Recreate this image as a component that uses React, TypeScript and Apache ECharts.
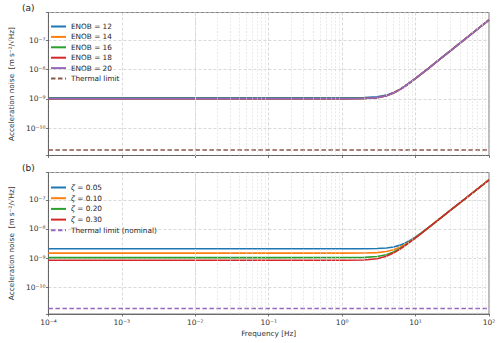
import React, { useEffect, useRef } from 'react';
import * as echarts from 'echarts';

// Frequency grid shared by every curve [Hz]
const FREQ = [1e-4, 1e-3, 1e-2, 0.1, 1, 2, 3, 4, 5, 6, 7, 8, 10, 12, 15, 20, 30, 50, 100];

// Panel (a): readout noise for different ADC resolutions
const ENOB_NAMES = ['ENOB = 12', 'ENOB = 14', 'ENOB = 16', 'ENOB = 18', 'ENOB = 20'];
const ENOB_12 = [1.1e-9, 1.1e-9, 1.1e-9, 1.1e-9, 1.1e-9, 1.117e-9, 1.185e-9, 1.351e-9, 1.646e-9, 2.079e-9, 2.641e-9, 3.323e-9, 5.022e-9, 7.141e-9, 1.108e-8, 1.963e-8, 4.411e-8, 1.225e-7, 4.9e-7];
const ENOB_14 = [1.03e-9, 1.03e-9, 1.03e-9, 1.03e-9, 1.031e-9, 1.049e-9, 1.121e-9, 1.294e-9, 1.601e-9, 2.043e-9, 2.613e-9, 3.301e-9, 5.006e-9, 7.131e-9, 1.107e-8, 1.963e-8, 4.411e-8, 1.225e-7, 4.9e-7];
const ENOB_16 = [1.02e-9, 1.02e-9, 1.02e-9, 1.02e-9, 1.021e-9, 1.039e-9, 1.111e-9, 1.287e-9, 1.594e-9, 2.038e-9, 2.609e-9, 3.298e-9, 5.005e-9, 7.129e-9, 1.107e-8, 1.963e-8, 4.411e-8, 1.225e-7, 4.9e-7];
const ENOB_18 = [1.02e-9, 1.02e-9, 1.02e-9, 1.02e-9, 1.021e-9, 1.039e-9, 1.111e-9, 1.287e-9, 1.594e-9, 2.038e-9, 2.609e-9, 3.298e-9, 5.005e-9, 7.129e-9, 1.107e-8, 1.963e-8, 4.411e-8, 1.225e-7, 4.9e-7];
const ENOB_20 = [1.02e-9, 1.02e-9, 1.02e-9, 1.02e-9, 1.021e-9, 1.039e-9, 1.111e-9, 1.287e-9, 1.594e-9, 2.038e-9, 2.609e-9, 3.298e-9, 5.005e-9, 7.129e-9, 1.107e-8, 1.963e-8, 4.411e-8, 1.225e-7, 4.9e-7];
const THERMAL_A = 1.85e-11;

// Panel (b): effect of the damping ratio
const ZETA_NAMES = ['ζ = 0.05', 'ζ = 0.10', 'ζ = 0.20', 'ζ = 0.30'];
const ZETA_005 = [2.08e-9, 2.08e-9, 2.08e-9, 2.08e-9, 2.081e-9, 2.089e-9, 2.126e-9, 2.223e-9, 2.414e-9, 2.727e-9, 3.177e-9, 3.763e-9, 5.323e-9, 7.356e-9, 1.122e-8, 1.971e-8, 4.415e-8, 1.225e-7, 4.9e-7];
const ZETA_010 = [1.48e-9, 1.48e-9, 1.48e-9, 1.48e-9, 1.481e-9, 1.493e-9, 1.544e-9, 1.675e-9, 1.921e-9, 2.303e-9, 2.821e-9, 3.468e-9, 5.119e-9, 7.21e-9, 1.112e-8, 1.966e-8, 4.413e-8, 1.225e-7, 4.9e-7];
const ZETA_020 = [1.04e-9, 1.04e-9, 1.04e-9, 1.04e-9, 1.041e-9, 1.058e-9, 1.13e-9, 1.302e-9, 1.607e-9, 2.048e-9, 2.617e-9, 3.304e-9, 5.009e-9, 7.132e-9, 1.107e-8, 1.963e-8, 4.411e-8, 1.225e-7, 4.9e-7];
const ZETA_030 = [0.84e-9, 0.84e-9, 0.84e-9, 0.84e-9, 0.841e-9, 0.863e-9, 0.949e-9, 1.149e-9, 1.485e-9, 1.954e-9, 2.544e-9, 3.247e-9, 4.972e-9, 7.106e-9, 1.106e-8, 1.962e-8, 4.411e-8, 1.225e-7, 4.9e-7];
const THERMAL_B = 1.85e-11;

// Axis limits
const X_MIN = 1e-4;
const X_MAX = 100;
const Y_MIN = 1.2e-11;
const Y_MAX = 8.7e-7;

const TAB10 = ['#1f77b4', '#ff7f0e', '#2ca02c', '#d62728', '#9467bd', '#8c564b'];
const FONT = 'DejaVu Sans';
const AXIS_COLOR = '#555';
const TICK_FONT = 7.5;
const TEXT_FONT = 7.3;

const SUP: Record<string, string> = {
  '-': '⁻', '0': '⁰', '1': '¹', '2': '²', '3': '³', '4': '⁴',
  '5': '⁵', '6': '⁶', '7': '⁷', '8': '⁸', '9': '⁹',
};

function powerLabel(v: number): string {
  const lg = Math.log10(v);
  const e = Math.round(lg);
  if (Math.abs(lg - e) > 1e-6) return '';
  return '10' + String(e).split('').map((c) => SUP[c] ?? c).join('');
}

function zip(values: number[]): [number, number][] {
  return FREQ.map((f, i) => [f, values[i]]);
}

// Minor log grid positions (2..9 of every decade inside the limits)
function minorPositions(lo: number, hi: number): number[] {
  const out: number[] = [];
  for (let k = Math.floor(Math.log10(lo)); k <= Math.ceil(Math.log10(hi)); k++) {
    for (let m = 2; m <= 9; m++) {
      const v = m * Math.pow(10, k);
      if (v > lo && v < hi) out.push(v);
    }
  }
  return out;
}

function xAxisFor(gridIndex: number, showLabels: boolean) {
  return {
    type: 'log',
    logBase: 10,
    gridIndex,
    min: X_MIN,
    max: X_MAX,
    axisLine: { show: true, lineStyle: { color: AXIS_COLOR, width: 0.8 } },
    axisTick: { show: true, length: 2.5, lineStyle: { color: AXIS_COLOR, width: 0.8 } },
    axisLabel: {
      show: showLabels,
      formatter: powerLabel,
      fontSize: TICK_FONT,
      color: '#333',
      fontFamily: FONT,
      margin: 4,
      showMinLabel: true,
      showMaxLabel: true,
    },
    splitLine: { show: true, lineStyle: { color: '#c8c8c8', width: 0.7, type: [3, 2] } },
    name: showLabels ? 'Frequency [Hz]' : '',
    nameLocation: 'middle',
    nameGap: 16,
    nameTextStyle: { fontSize: TEXT_FONT, color: '#333', fontFamily: FONT },
  };
}

function yAxisFor(gridIndex: number) {
  return {
    type: 'log',
    logBase: 10,
    gridIndex,
    min: Y_MIN,
    max: Y_MAX,
    axisLine: { show: true, lineStyle: { color: AXIS_COLOR, width: 0.8 } },
    axisTick: { show: true, length: 2.5, lineStyle: { color: AXIS_COLOR, width: 0.8 } },
    axisLabel: { formatter: powerLabel, fontSize: TICK_FONT, color: '#333', fontFamily: FONT, margin: 3 },
    splitLine: { show: true, lineStyle: { color: '#c8c8c8', width: 0.7, type: [3, 2] } },
    name: 'Acceleration noise  [m s⁻²/√Hz]',
    nameLocation: 'middle',
    nameRotate: 90,
    nameGap: 22,
    nameTextStyle: { fontSize: TEXT_FONT, color: '#333', fontFamily: FONT },
  };
}

function minorGridSeries(idx: number) {
  return {
    type: 'line',
    name: '__minor' + idx,
    xAxisIndex: idx,
    yAxisIndex: idx,
    z: 1,
    silent: true,
    symbol: 'none',
    data: [[X_MIN, Y_MIN], [X_MAX, Y_MIN]],
    lineStyle: { opacity: 0 },
    markLine: {
      silent: true,
      symbol: ['none', 'none'],
      label: { show: false },
      emphasis: { disabled: true },
      lineStyle: { color: '#dcdcdc', width: 0.6, type: [2, 1.5] },
      data: [
        ...minorPositions(X_MIN, X_MAX).map((v) => ({ xAxis: v })),
        ...minorPositions(Y_MIN, Y_MAX).map((v) => ({ yAxis: v })),
      ],
    },
  };
}

function curve(name: string, values: number[], color: string, idx: number) {
  return {
    type: 'line',
    name,
    xAxisIndex: idx,
    yAxisIndex: idx,
    data: zip(values),
    symbol: 'none',
    z: 3,
    color,
    lineStyle: { color, width: 1.6 },
  };
}

function thermal(name: string, value: number, color: string, idx: number) {
  return {
    type: 'line',
    name,
    xAxisIndex: idx,
    yAxisIndex: idx,
    data: [[X_MIN, value], [X_MAX, value]],
    symbol: 'none',
    z: 3,
    color,
    lineStyle: { color, width: 1.5, type: [4.5, 2.5] },
  };
}

export default function App() {
  const ref = useRef<HTMLDivElement>(null);

  useEffect(() => {
    if (!ref.current) return;
    const chart = echarts.init(ref.current, undefined, { renderer: 'svg' });
    const enobSeries = [ENOB_12, ENOB_14, ENOB_16, ENOB_18, ENOB_20];
    const zetaSeries = [ZETA_005, ZETA_010, ZETA_020, ZETA_030];

    const legendBase = {
      orient: 'vertical',
      left: 45,
      itemWidth: 15,
      itemHeight: 8,
      itemGap: 2.4,
      itemStyle: { opacity: 0 },
      textStyle: {
        fontSize: TEXT_FONT,
        lineHeight: 8,
        color: '#222',
        fontFamily: FONT,
        rich: { i: { fontStyle: 'italic', fontSize: TEXT_FONT, fontFamily: FONT, color: '#222' } },
      },
    };

    chart.setOption({
      animation: false,
      backgroundColor: '#fff',
      grid: [
        { left: 39, right: 11, top: 12.5, height: 143, show: true, borderColor: AXIS_COLOR, borderWidth: 0.8 },
        { left: 39, right: 11, top: 172.5, height: 141.5, show: true, borderColor: AXIS_COLOR, borderWidth: 0.8 },
      ],
      xAxis: [xAxisFor(0, false), xAxisFor(1, true)],
      yAxis: [yAxisFor(0), yAxisFor(1)],
      legend: [
        {
          ...legendBase,
          top: 17.5,
          data: [...ENOB_NAMES, 'Thermal limit'],
        },
        {
          ...legendBase,
          top: 178.5,
          itemGap: 2.7,
          data: [...ZETA_NAMES, 'Thermal limit (nominal)'],
          formatter: (name: string) => (name.startsWith('ζ') ? '{i|ζ}' + name.slice(1) : name),
        },
      ],
      graphic: [
        { type: 'text', left: 22, top: 3.5, style: { text: '(a)', fontSize: 9, fill: '#222', fontFamily: FONT } },
        { type: 'text', left: 22, top: 163, style: { text: '(b)', fontSize: 9, fill: '#222', fontFamily: FONT } },
      ],
      series: [
        minorGridSeries(0),
        minorGridSeries(1),
        ...enobSeries.map((vals, i) => curve(ENOB_NAMES[i], vals, TAB10[i], 0)),
        thermal('Thermal limit', THERMAL_A, TAB10[5], 0),
        ...zetaSeries.map((vals, i) => curve(ZETA_NAMES[i], vals, TAB10[i], 1)),
        thermal('Thermal limit (nominal)', THERMAL_B, TAB10[4], 1),
      ],
    });

    return () => chart.dispose();
  }, []);

  return (
    <div
      ref={ref}
      style={{ position: 'fixed', left: 0, top: 0, width: 500, height: 343, background: '#fff' }}
    />
  );
}
